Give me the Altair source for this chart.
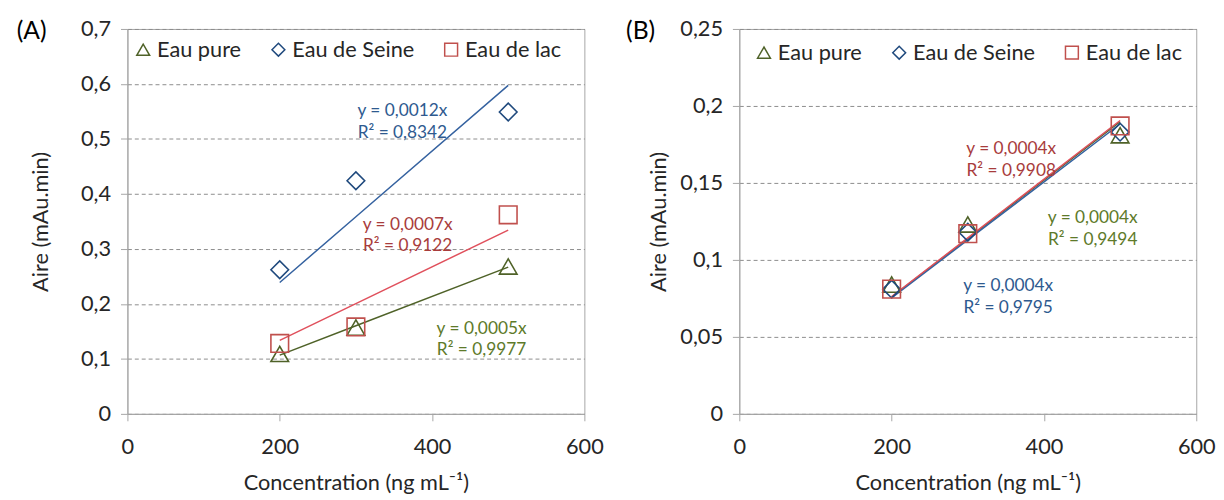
import altair as alt
import pandas as pd

# ---------------- data ----------------
series = ["Eau pure", "Eau de Seine", "Eau de lac"]
conc = [200, 300, 500]

# Panel (A)
a_pure = [0.109, 0.157, 0.268]
a_seine = [0.262, 0.424, 0.549]
a_lac = [0.128, 0.158, 0.362]

# Panel (B)
b_pure = [0.084, 0.123, 0.181]
b_seine = [0.081, 0.118, 0.183]
b_lac = [0.081, 0.117, 0.187]

# trendline labels (same order as series)
a_eq = ["y = 0,0005x", "y = 0,0012x", "y = 0,0007x"]
a_r2 = ["R² = 0,9977", "R² = 0,8342", "R² = 0,9122"]
b_eq = ["y = 0,0004x", "y = 0,0004x", "y = 0,0004x"]
b_r2 = ["R² = 0,9494", "R² = 0,9795", "R² = 0,9908"]

# label anchors in data units
a_ann_x = [465, 361, 368]
a_ann_y = [0.155, 0.550, 0.344]
b_ann_x = [464, 353, 357]
b_ann_y = [0.127, 0.083, 0.172]

x_ticks = [0, 200, 400, 600]
a_y_ticks = [0, 0.1, 0.2, 0.3, 0.4, 0.5, 0.6, 0.7]
b_y_ticks = [0, 0.05, 0.1, 0.15, 0.2, 0.25]

# ---------------- styles ----------------
FONT = "Lato"
marker_colors = ["#4F6228", "#1F497D", "#C0504D"]
line_colors = ["#4F6228", "#3562A0", "#E0505C"]
text_colors = ["#5E7A2A", "#2E5A8F", "#A83C3C"]
shapes = ["triangle-up", "diamond", "square"]
W, H = 463, 390
FS = 22


def make_panel(values, eqs, r2s, ann_x, ann_y, y_ticks, letter, letter_dx, leg_x, leg_y, title_pad):
    df = pd.DataFrame({
        "serie": [s for s in series for _ in conc],
        "x": conc * 3,
        "y": values[0] + values[1] + values[2],
    })
    ann = pd.DataFrame({
        "serie": series,
        "ax": ann_x,
        "ay": ann_y,
        "label": [e + "\n" + r for e, r in zip(eqs, r2s)],
    })
    xscale = alt.Scale(domain=[0, 600], nice=False, zero=True)
    yscale = alt.Scale(domain=[0, y_ticks[-1]], nice=False, zero=True)
    xaxis = alt.Axis(values=x_ticks, grid=False, labelFlush=False, tickSize=7,
                     tickColor="#a6a6a6", domainColor="#a6a6a6", labelPadding=16,
                     labelFontSize=FS, titleFontSize=FS, labelColor="#262626",
                     titleColor="#262626", titleFontWeight="normal", titlePadding=16,
                     title="Concentration (ng mL⁻¹)")
    yaxis = alt.Axis(values=y_ticks, labelExpr="replace(format(datum.value, ''), '.', ',')",
                     grid=True, gridDash=[4, 3], gridColor="#8c8c8c", gridWidth=1,
                     tickSize=7, tickColor="#a6a6a6", domainColor="#a6a6a6",
                     labelPadding=10, labelFontSize=FS, titleFontSize=FS,
                     labelColor="#262626", titleColor="#262626",
                     titleFontWeight="normal", titlePadding=title_pad,
                     title="Aire (mAu.min)")

    base = alt.Chart(df)
    points = base.mark_point(filled=False, size=320, strokeWidth=1.6, opacity=1).encode(
        x=alt.X("x:Q", scale=xscale, axis=xaxis),
        y=alt.Y("y:Q", scale=yscale, axis=yaxis),
        color=alt.Color("serie:N", scale=alt.Scale(domain=series, range=marker_colors),
                        sort=series,
                        legend=alt.Legend(orient="none", legendX=leg_x, legendY=leg_y,
                                          direction="horizontal", title=None,
                                          labelFontSize=FS, labelColor="#262626",
                                          symbolSize=170, symbolStrokeWidth=1.5,
                                          labelOffset=3, columnPadding=26, padding=0)),
        shape=alt.Shape("serie:N", scale=alt.Scale(domain=series, range=shapes), sort=series),
    )

    layers = []
    for s, lc in zip(series, line_colors):
        fit = base.transform_filter(alt.datum.serie == s).transform_calculate(
            xy="datum.x * datum.y", xx="datum.x * datum.x"
        ).transform_joinaggregate(
            sxy="sum(xy)", sxx="sum(xx)"
        ).transform_calculate(
            fit="datum.sxy / datum.sxx * datum.x"
        ).mark_line(color=lc, strokeWidth=1.5).encode(
            x=alt.X("x:Q", scale=xscale, axis=xaxis),
            y=alt.Y("fit:Q", scale=yscale, axis=yaxis),
        )
        layers.append(fit)

    for s, tc in zip(series, text_colors):
        txt = alt.Chart(ann).transform_filter(alt.datum.serie == s).mark_text(
            color=tc, fontSize=17.5, lineBreak="\n", lineHeight=22,
            align="center", baseline="middle"
        ).encode(
            x=alt.X("ax:Q", scale=xscale, axis=xaxis),
            y=alt.Y("ay:Q", scale=yscale, axis=yaxis),
            text="label:N",
        )
        layers.append(txt)

    letter_df = pd.DataFrame({"t": [letter]})
    lab = alt.Chart(letter_df).mark_text(fontSize=25, color="#000000", align="center",
                                         baseline="middle").encode(
        text="t:N", x=alt.value(letter_dx), y=alt.value(2)
    )

    return alt.layer(*layers, points, lab).properties(width=W, height=H)


panel_a = make_panel([a_pure, a_seine, a_lac], a_eq, a_r2, a_ann_x, a_ann_y, a_y_ticks,
                     "(A)", -97, 5, 10, 28)
panel_b = make_panel([b_pure, b_seine, b_lac], b_eq, b_r2, b_ann_x, b_ann_y, b_y_ticks,
                     "(B)", -100, 14, 13, 10)

chart = alt.hconcat(panel_a, panel_b, spacing=21).resolve_scale(
    x="independent", y="independent", color="independent", shape="independent"
).resolve_legend(color="independent", shape="independent").properties(
    padding={"left": 8, "top": 6, "right": 0, "bottom": 0}
).configure(font=FONT).configure_view(stroke="#a6a6a6", strokeWidth=1)

chart.save("out.html", embed_options={"renderer": "svg", "actions": False})
